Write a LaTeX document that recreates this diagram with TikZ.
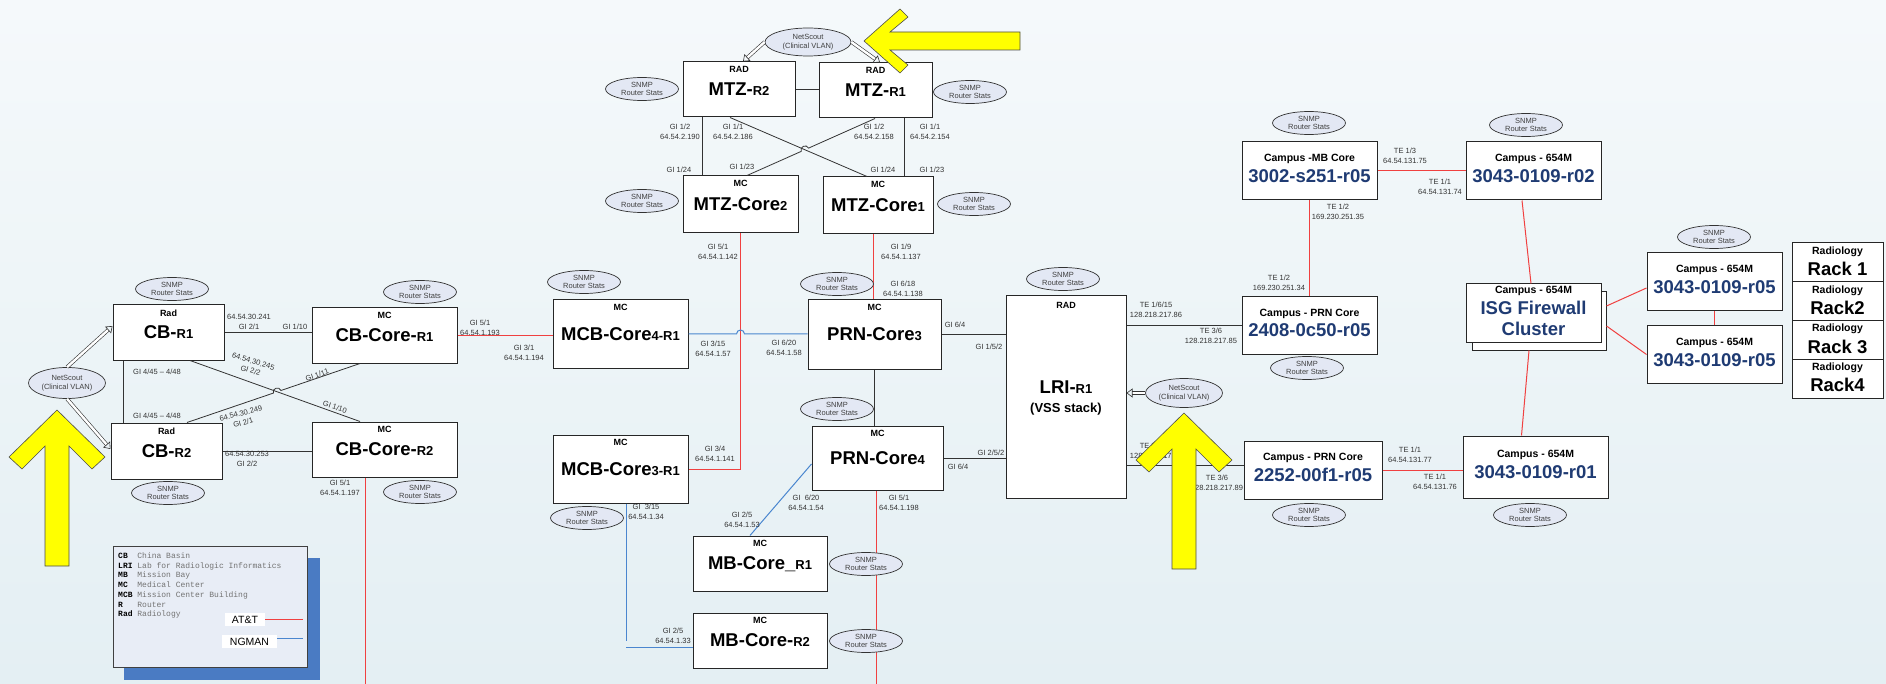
\documentclass[tikz,border=0pt]{standalone}
\usepackage{fontspec}
\setmainfont{Liberation Sans}
\newfontfamily\legendfont{Liberation Mono}
\usetikzlibrary{arrows.meta,positioning,shapes,calc}
\definecolor{attred}{HTML}{F04040}
\definecolor{ngmblue}{HTML}{4A86CF}
\definecolor{navy}{HTML}{1F3B73}
\definecolor{bgtop}{HTML}{F5F9FB}
\definecolor{bgbot}{HTML}{E4EFF3}
\definecolor{ovalfill}{HTML}{E3E8F4}
\definecolor{legfill}{HTML}{E8EDF6}
\definecolor{legshadow}{HTML}{4A7BC3}
\definecolor{hilite}{HTML}{FFFF00}
\newcommand{\sm}[1]{{\fontsize{13}{14}\selectfont #1}}
\newcommand{\ab}[1]{\textcolor{black}{\bfseries #1}}

\begin{document}
\begin{tikzpicture}[x=1pt, y=-1pt,
    rtr/.style={rectangle, draw=black!85, fill=white, line width=1pt, inner sep=0pt, font=\bfseries\fontsize{18.5}{20}\selectfont},
    tag/.style={font=\bfseries\fontsize{9}{10}\selectfont, anchor=north, inner sep=0pt, yshift=-5pt},
    campus/.style={rtr, text=navy, text height=23pt, text depth=0pt},
    ctag/.style={font=\bfseries\fontsize{10.5}{12}\selectfont, text=black, anchor=north, inner sep=0pt, yshift=-12.5pt},
    rack/.style={rtr, minimum width=91, minimum height=39, text height=26pt, text depth=0pt},
    rtag/.style={ctag, yshift=8.5pt},
    snmp/.style={ellipse, draw=black!80, fill=ovalfill, line width=0.7pt, minimum width=73, minimum height=23, inner sep=0pt, align=center, font=\fontsize{7.5}{8.8}\selectfont, text=black!75},
    nscout/.style={snmp, minimum width=78, minimum height=30},
    port/.style={font=\fontsize{7.5}{9.5}\selectfont, align=center, inner sep=0pt, text=black!80},
    lk/.style={draw=black!80, line width=0.8pt},
    att/.style={draw=attred, line width=1pt},
    ngm/.style={draw=ngmblue, line width=1pt},
    tap/.style={draw=black!80, line width=0.6pt, double=white, double distance=2.4pt, -{Triangle[open, length=6pt, width=9pt]}},
    yarrow/.style={fill=hilite, draw=black!70, line width=0.6pt}
]
\useasboundingbox (0,0) rectangle (1886,684);
\shade[top color=bgtop, bottom color=bgbot] (0,0) rectangle (1886,684);

% China Basin
\node[rtr, minimum width=111, minimum height=55, label={[tag]north:Rad}] (cbr1) at (168.5,332.5) {CB-\sm{R1}};
\node[rtr, minimum width=111, minimum height=56, label={[tag]north:Rad}] (cbr2) at (166.5,451) {CB-\sm{R2}};
\node[rtr, minimum width=145, minimum height=55, label={[tag]north:MC}] (cbc1) at (384.5,335.5) {CB-Core-\sm{R1}};
\node[rtr, minimum width=145, minimum height=55, label={[tag]north:MC}] (cbc2) at (384.5,449.5) {CB-Core-\sm{R2}};

% Mission Center Building
\node[rtr, minimum width=135, minimum height=68, label={[tag]north:MC}] (mcb4) at (620.5,334) {MCB-Core\sm{4-R1}};
\node[rtr, minimum width=135, minimum height=68, label={[tag]north:MC}] (mcb3) at (620.5,469) {MCB-Core\sm{3-R1}};

% MTZ
\node[rtr, minimum width=112, minimum height=55, label={[tag]north:RAD}] (mtzr2) at (739,89.5) {MTZ-\sm{R2}};
\node[rtr, minimum width=113, minimum height=55, label={[tag]north:RAD}] (mtzr1) at (875.5,90.5) {MTZ-\sm{R1}};
\node[rtr, minimum width=115, minimum height=57, label={[tag]north:MC}] (mtzc2) at (740.5,204.5) {MTZ-Core\sm{2}};
\node[rtr, minimum width=110, minimum height=57, label={[tag]north:MC}] (mtzc1) at (878,205.5) {MTZ-Core\sm{1}};

% Parnassus
\node[rtr, minimum width=133, minimum height=69, label={[tag]north:MC}] (prn3) at (874.5,334.5) {PRN-Core\sm{3}};
\node[rtr, minimum width=131, minimum height=64, label={[tag]north:MC}] (prn4) at (877.5,458) {PRN-Core\sm{4}};

% Mission Bay
\node[rtr, minimum width=134, minimum height=55, text depth=0pt, label={[tag]north:MC}] (mbr1) at (760,563.5) {MB-Core\_\sm{R1}};
\node[rtr, minimum width=134, minimum height=55, label={[tag]north:MC}] (mbr2) at (760,640.5) {MB-Core-\sm{R2}};

% LRI
\node[rtr, minimum width=120, minimum height=202, label={[tag, yshift=-1.5pt]north:RAD}] (lri) at (1066,397) {};
\node[font=\bfseries\fontsize{18.5}{20}\selectfont, inner sep=0pt] (lrit) at (1066,387) {LRI-\sm{R1}};
\node[font=\bfseries\fontsize{13}{14}\selectfont, inner sep=0pt] (lris) at (1066,409) {(VSS stack)};

% Campus
\node[campus, minimum width=135, minimum height=58, label={[ctag]north:Campus -MB Core}] (c3002) at (1309.5,171) {3002-s251-r05};
\node[campus, minimum width=135, minimum height=57, label={[ctag]north:Campus - PRN Core}] (c2408) at (1309.5,325.5) {2408-0c50-r05};
\node[campus, minimum width=138, minimum height=58, label={[ctag]north:Campus - PRN Core}] (c2252) at (1313,470) {2252-00f1-r05};
\node[campus, minimum width=135, minimum height=58, label={[ctag]north:Campus - 654M}] (r02) at (1533.5,171) {3043-0109-r02};
\node[campus, minimum width=145, minimum height=62, label={[ctag, yshift=-2pt]north:Campus - 654M}] (r01) at (1535.5,467) {3043-0109-r01};
\node[campus, minimum width=135, minimum height=58, label={[ctag]north:Campus - 654M}] (r05a) at (1714.5,282) {3043-0109-r05};
\node[campus, minimum width=135, minimum height=57, label={[ctag]north:Campus - 654M}] (r05b) at (1714.5,354.5) {3043-0109-r05};

% firewall cluster
\node[rtr, minimum width=134, minimum height=58] (isgb) at (1539,321) {};
\node[rtr, minimum width=135, minimum height=58, label={[ctag, yshift=10pt]north:Campus - 654M}] (isgf) at (1533.5,313) {};
\node[font=\bfseries\fontsize{18.5}{21}\selectfont, text=navy, align=center, inner sep=0pt] (isgt) at (1533.5,318.5) {ISG Firewall\\Cluster};

% racks
\foreach \i/\y/\t in {1/262.5/Rack 1, 2/301.5/Rack2, 3/340/Rack 3, 4/378.5/Rack4}
  \node[rack, label={[rtag]north:Radiology}] (rack\i) at (1837.5,\y) {\t};

% links, China Basin
\draw[lk] (cbr1.east) -- (cbr1.east -| cbc1.west);
\draw[lk] (cbr2.east) -- (cbr2.east -| cbc2.west);
\draw[lk] ([xshift=11pt]cbr1.south west) -- ([xshift=11pt]cbr1.south west |- cbr2.north);
\coordinate (cbA) at ([xshift=21.5pt]cbr1.south);
\coordinate (cbB) at ([xshift=-24.5pt]cbc2.north);
\coordinate (cbC) at ([xshift=20.5pt]cbr2.north);
\coordinate (cbD) at ([xshift=-24.5pt]cbc1.south);
\coordinate (cbX) at (intersection of cbA--cbB and cbC--cbD);
\coordinate (cbh1) at ($(cbX)!4pt!(cbC)$);
\coordinate (cbh2) at ($(cbX)!4pt!(cbD)$);
\draw[lk] (cbA) -- (cbB);
\draw[lk] (cbC) -- (cbh1) .. controls ($(cbh1)!5pt!90:(cbX)$) and ($(cbh2)!5pt!-90:(cbX)$) .. (cbh2) -- (cbD);
\draw[att] (cbc1.east) -- (cbc1.east -| mcb4.west);
\coordinate (cbout) at ([xshift=-19.5pt]cbc2.south |- 0,684);
\draw[att] ([xshift=-19.5pt]cbc2.south) -- (cbout);

% links, MTZ
\draw[lk] (mtzr2.east) -- (mtzr2.east -| mtzr1.west);
\draw[lk] ([xshift=-37pt]mtzr2.south) -- ([xshift=-37pt]mtzr2.south |- mtzc2.north);
\draw[lk] ([xshift=28.5pt]mtzr1.south) -- ([xshift=28.5pt]mtzr1.south |- mtzc1.north);
\coordinate (mzA) at ([xshift=-9pt]mtzr2.south);
\coordinate (mzB) at ([xshift=-11pt]mtzc1.north);
\coordinate (mzC) at ([xshift=6.5pt]mtzc2.north);
\coordinate (mzD) at ([xshift=-0.5pt]mtzr1.south);
\coordinate (mzX) at (intersection of mzA--mzB and mzC--mzD);
\coordinate (mzh1) at ($(mzX)!4pt!(mzC)$);
\coordinate (mzh2) at ($(mzX)!4pt!(mzD)$);
\draw[lk] (mzA) -- (mzB);
\draw[lk] (mzC) -- (mzh1) .. controls ($(mzh1)!5pt!90:(mzX)$) and ($(mzh2)!5pt!-90:(mzX)$) .. (mzh2) -- (mzD);

% links, core
\draw[att] (mtzc2.south) -- (mtzc2.south |- mcb3.east) -- (mcb3.east);
\draw[att] ([xshift=-5pt]mtzc1.south) -- ([xshift=-5pt]mtzc1.south |- prn3.north);
\coordinate (bX) at (mtzc2.south |- mcb4.east);
\draw[ngm] (mcb4.east) -- ([xshift=-4pt]bX) arc[start angle=180, end angle=0, radius=4pt] -- (mcb4.east -| prn3.west);
\draw[lk] (prn3.east) -- (prn3.east -| lri.west);
\draw[lk] (prn3.south) -- (prn3.south |- prn4.north);
\draw[lk] (prn4.east) -- (prn4.east -| lri.west);
\draw[ngm] ([yshift=-6pt]prn4.west) -- ([xshift=-10pt]mbr1.north);
\draw[ngm] ([xshift=5.5pt]mcb3.south) -- ([xshift=5.5pt]mcb3.south |- mbr2.west) ++(0,6.5) -- ([yshift=-6.5pt]mbr2.west);
\coordinate (prnout) at ([xshift=-1.5pt]prn4.south |- 0,684);
\draw[att] ([xshift=-1.5pt]prn4.south) -- (prnout);

% links, campus
\draw[lk] (lri.east |- c2408.west) -- (c2408.west);
\draw[lk] (lri.east |- c2252.west) ++(0,-5) -- ([yshift=5pt]c2252.west);
\draw[att] (c3002.south) -- (c3002.south |- c2408.north);
\draw[att] (c3002.east) -- (c3002.east -| r02.west);
\draw[att] ([xshift=-11.5pt]r02.south) -- ([xshift=-2.5pt]isgf.north);
\draw[att] ([xshift=-10pt]isgb.south) -- ([xshift=-14pt]r01.north);
\draw[att] ([yshift=15pt]isgb.east) -- ([yshift=-6pt]r05a.west);
\draw[att] ([yshift=-5pt]isgb.east) -- (r05b.west);
\draw[att] (r05a.south) -- (r05b.north);
\draw[att] (c2252.east) -- (c2252.east -| r01.west);

% port labels
\node[port] (ip1) at (249,322) {64.54.30.241\\GI 2/1};
\node[port] (ip2) at (295,327) {GI 1/10};
\node[port] (ip3) at (157,372) {GI 4/45 -- 4/48};
\node[port] (ip4) at (157,416) {GI 4/45 -- 4/48};
\node[port, rotate=-17] (ip5) at (252,366) {64.54.30.245\\GI 2/2};
\node[port, rotate=-18] (ip6) at (335,407) {GI 1/10};
\node[port, rotate=19] (ip7) at (317,375) {GI 1/11};
\node[port, rotate=15] (ip8) at (242,418) {64.54.30.249\\GI 2/1};
\node[port] (ip9) at (247,459) {64.54.30.253\\GI 2/2};
\node[port] (ip10) at (340,488) {GI 5/1\\64.54.1.197};
\node[port] (ip11) at (480,328) {GI 5/1\\64.54.1.193};
\node[port] (ip12) at (524,353) {GI 3/1\\64.54.1.194};
\node[port] (ip13) at (680,132) {GI 1/2\\64.54.2.190};
\node[port] (ip14) at (733,132) {GI 1/1\\64.54.2.186};
\node[port] (ip15) at (874,132) {GI 1/2\\64.54.2.158};
\node[port] (ip16) at (930,132) {GI 1/1\\64.54.2.154};
\node[port] (ip17) at (679,170) {GI 1/24};
\node[port] (ip18) at (742,167) {GI 1/23};
\node[port] (ip19) at (883,170) {GI 1/24};
\node[port] (ip20) at (932,170) {GI 1/23};
\node[port] (ip21) at (718,252) {GI 5/1\\64.54.1.142};
\node[port] (ip22) at (901,252) {GI 1/9\\64.54.1.137};
\node[port] (ip23) at (903,289) {GI 6/18\\64.54.1.138};
\node[port] (ip24) at (713,349) {GI 3/15\\64.54.1.57};
\node[port] (ip25) at (784,348) {GI 6/20\\64.54.1.58};
\node[port] (ip26) at (955,325) {GI 6/4};
\node[port] (ip27) at (989,347) {GI 1/5/2};
\node[port] (ip28) at (715,454) {GI 3/4\\64.54.1.141};
\node[port] (ip29) at (991,453) {GI 2/5/2};
\node[port] (ip30) at (958,467) {GI 6/4};
\node[port] (ip31) at (646,512) {GI~~3/15\\64.54.1.34};
\node[port] (ip32) at (673,636) {GI 2/5\\64.54.1.33};
\node[port] (ip33) at (806,503) {GI~~6/20\\64.54.1.54};
\node[port] (ip34) at (742,520) {GI 2/5\\64.54.1.53};
\node[port] (ip35) at (899,503) {GI 5/1\\64.54.1.198};
\node[port] (ip36) at (1156,310) {TE 1/6/15\\128.218.217.86};
\node[port] (ip37) at (1211,336) {TE 3/6\\128.218.217.85};
\node[port] (ip38) at (1156,451) {TE 2/6/15\\128.218.217.90};
\node[port] (ip39) at (1217,483) {TE 3/6\\128.218.217.89};
\node[port] (ip40) at (1338,212) {TE 1/2\\169.230.251.35};
\node[port] (ip41) at (1279,283) {TE 1/2\\169.230.251.34};
\node[port] (ip42) at (1405,156) {TE 1/3\\64.54.131.75};
\node[port] (ip43) at (1440,187) {TE 1/1\\64.54.131.74};
\node[port] (ip44) at (1410,455) {TE 1/1\\64.54.131.77};
\node[port] (ip45) at (1435,482) {TE 1/1\\64.54.131.76};

% SNMP probes
\foreach \n/\p in {scbr1/{172,289}, scbc1/{420,292}, scbr2/{168,493}, scbc2/{420,492},
    smcb4/{584,282}, smcb3/{587,518}, sprn3/{837,284}, sprn4/{837,409},
    smtzr2/{642,89}, smtzr1/{970,92}, smtzc2/{642,201}, smtzc1/{974,204},
    smbr1/{866,564}, smbr2/{866,641}, slri/{1063,279}, sc3002/{1309,123},
    sc2408/{1307,368}, sc2252/{1309,515}, sr02/{1526,125}, sr01/{1530,515}, sr05/{1714,237}}
  \node[snmp] (\n) at (\p) {SNMP\\Router Stats};

% NetScout taps
\node[nscout, minimum width=77, minimum height=31] (ns1) at (67,383) {NetScout\\(Clinical VLAN)};
\node[nscout, minimum width=86, minimum height=28] (ns2) at (808,42) {NetScout\\(Clinical VLAN)};
\node[nscout, minimum width=77, minimum height=29] (ns3) at (1184,393) {NetScout\\(Clinical VLAN)};
\draw[tap] (ns1.north) -- ([yshift=6.5pt]cbr1.west);
\draw[tap] (ns1.south) -- ([yshift=2pt]cbr2.west);
\draw[tap] (ns2.west) -- ([xshift=4pt]mtzr2.north);
\draw[tap] (ns2.east) -- ([xshift=4.5pt]mtzr1.north);
\draw[tap] (ns3.west) -- (lri.east |- ns3.west);

% legend
\fill[legshadow] (124,558) rectangle (320,680);
\node[draw=black!75, fill=legfill, line width=1pt, minimum width=194, minimum height=121, inner sep=0pt] (legend) at (210,606.5) {};
\node[anchor=north west, align=left, inner sep=0pt, font=\legendfont\fontsize{8}{9.7}\selectfont, text=black!55] (abbr) at (118,552.5) {\ab{CB}~~China Basin\\\ab{LRI}~Lab for Radiologic Informatics\\\ab{MB}~~Mission Bay\\\ab{MC}~~Medical Center\\\ab{MCB}~Mission Center Building\\\ab{R}~~~Router\\\ab{Rad}~Radiology};
\node[fill=white, minimum width=40, minimum height=13, inner sep=0pt, font=\fontsize{10.5}{12}\selectfont] (attkey) at (245,619.5) {AT\&T};
\coordinate (attend) at (303,619.5);
\draw[att, line width=1.4pt] (attkey.east) -- (attend);
\node[fill=white, minimum width=55, minimum height=13, inner sep=0pt, font=\fontsize{10.5}{12}\selectfont] (ngmkey) at (249.5,641.5) {NGMAN};
\coordinate (ngmend) at (303,638.5);
\draw[ngm, line width=1.4pt] (ngmkey.east |- ngmend) -- (ngmend);

% highlight arrows
\draw[yarrow, shift={(57,410)}] (0,0) -- (-48,47) -- (-35,59) -- (-12,36) -- (-12,156) -- (12,156) -- (12,36) -- (35,59) -- (48,47) -- cycle;
\draw[yarrow, shift={(1184,413)}] (0,0) -- (-48,47) -- (-35,59) -- (-12,36) -- (-12,156) -- (12,156) -- (12,36) -- (35,59) -- (48,47) -- cycle;
\draw[yarrow, shift={(864,41)}] (0,0) -- (36,-32) -- (44,-24) -- (26,-9) -- (156,-9) -- (156,9) -- (26,9) -- (44,24) -- (36,32) -- cycle;
\end{tikzpicture}
\end{document}
